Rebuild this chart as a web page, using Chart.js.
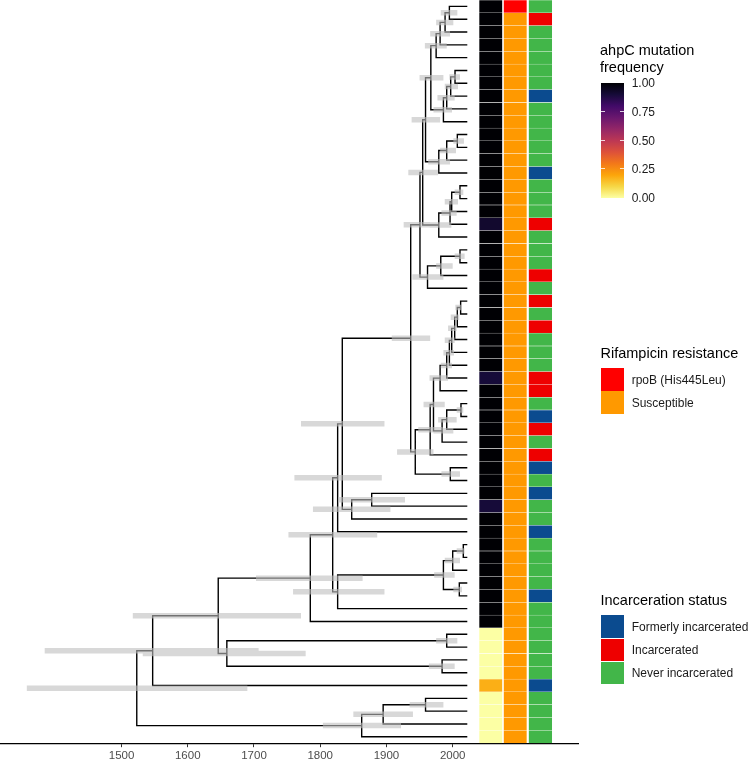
<!DOCTYPE html>
<html>
<head>
<meta charset="utf-8">
<script src="https://cdn.jsdelivr.net/npm/chart.js@4.4.1/dist/chart.umd.min.js"></script>
<style>
  html, body { margin: 0; padding: 0; background: #fff; overflow: hidden; }
  #wrap { position: relative; width: 749px; height: 759px; overflow: hidden; font-family: "Liberation Sans", Arial, Helvetica, sans-serif; }
  #tree { position: absolute; left: 0; top: 0; }
  .ttl { position: absolute; font-size: 14.5px; line-height: 17px; color: #000; white-space: nowrap; }
  .lab { position: absolute; font-size: 12px; line-height: 14px; color: #1a1a1a; white-space: nowrap; }
  .key { position: absolute; width: 23.6px; height: 22.7px; }
  .tk { position: absolute; width: 4.7px; height: 1px; background: rgba(255,255,255,0.8); }
</style>
</head>
<body>
<div id="wrap">
  <canvas id="tree" width="749" height="765"></canvas>
  <div id="legend"></div>
</div>
<script>
// tips are listed top to bottom (rows 1..58), all sampled about 2021
var tipDate = 2021;

var ahpcFreq = [
  1, 1, 1, 1, 1, 1, 1, 1, 1, 1,
  1, 1, 1, 1, 1, 1, 1, 0.92, 1, 1,
  1, 1, 1, 1, 1, 1, 1, 1, 1, 0.9,
  1, 1, 1, 1, 1, 1, 1, 1, 1, 0.9,
  1, 1, 1, 1, 1, 1, 1, 1, 1, 0,
  0, 0, 0, 0.18, 0, 0, 0, 0
];

var rifCategories = ['rpoB (His445Leu)', 'Susceptible'];
var rifampicin = [
  0, 1, 1, 1, 1, 1, 1, 1, 1, 1,
  1, 1, 1, 1, 1, 1, 1, 1, 1, 1,
  1, 1, 1, 1, 1, 1, 1, 1, 1, 1,
  1, 1, 1, 1, 1, 1, 1, 1, 1, 1,
  1, 1, 1, 1, 1, 1, 1, 1, 1, 1,
  1, 1, 1, 1, 1, 1, 1, 1
];

var jailCategories = ['Formerly incarcerated', 'Incarcerated', 'Never incarcerated'];
var incarceration = [
  2, 1, 2, 2, 2, 2, 2, 0, 2, 2,
  2, 2, 2, 0, 2, 2, 2, 1, 2, 2,
  2, 1, 2, 1, 2, 1, 2, 2, 2, 1,
  1, 2, 0, 1, 2, 1, 0, 2, 0, 2,
  2, 0, 2, 2, 2, 2, 0, 2, 2, 2,
  2, 2, 2, 0, 2, 2, 2, 2
];

// internal nodes, children before parents; numbers are tip rows
var nodeNames = ['a12', 'a13', 'a14', 'a15', 'b67', 'b68', 'b69', 'b610', 'c110', 'd1112',
  'd1113', 'd1114', 'e114', 'f1516', 'f1517', 'f1518', 'f1519', 'r119', 'g2021', 'g2022',
  'g2023', 'q', 'h2425', 'h26', 'h27', 'h28', 'h29', 'h30', 'h31', 'i3233',
  'i34', 'i35', 'wa', 'w0', 'j3738', 'k', 'p', 'l3940', 'l41', 'm',
  'hh', 'n4344', 'n45', 'n4647', 'n610', 'n48', 'gg', 'dd', 'f5051', 'g5253',
  'ee', 'cc', 'aa', 'b5556', 'b57', 'bb', 'root'];
var nodeKids = [[1, 2], ['a12', 3], ['a13', 4], ['a14', 5], [6, 7], ['b67', 8], ['b68', 9], ['b69', 10], ['a15', 'b610'], [11, 12],
  ['d1112', 13], ['d1113', 14], ['c110', 'd1114'], [15, 16], ['f1516', 17], ['f1517', 18], ['f1518', 19], ['e114', 'f1519'], [20, 21], ['g2021', 22],
  ['g2022', 23], ['r119', 'g2023'], [24, 25], ['h2425', 26], ['h26', 27], ['h27', 28], ['h28', 29], ['h29', 30], ['h30', 31], [32, 33],
  ['i3233', 34], ['i34', 35], ['h31', 'i35'], ['wa', 36], [37, 38], ['w0', 'j3738'], ['q', 'k'], [39, 40], ['l3940', 41], ['p', 'l41'],
  ['m', 42], [43, 44], ['n4344', 45], [46, 47], ['n45', 'n4647'], ['n610', 48], ['hh', 'n48'], ['gg', 49], [50, 51], [52, 53],
  ['f5051', 'g5253'], ['dd', 'ee'], ['cc', 54], [55, 56], ['b5556', 57], ['b57', 58], ['aa', 'bb']];
var nodeDates = [1995, 1988.5, 1981, 1975, 2003.5, 1997, 1991, 1986, 1967, 2007,
  1991, 1979, 1959, 2011, 1998.5, 1996, 1979, 1954.7, 2011, 1982,
  1962, 1950.6, 2012, 2007, 2003, 1998.5, 1995, 1991, 1981, 2012.5,
  1991, 1984, 1971, 1966, 1996.4, 1943.5, 1936.6, 1877.7, 1847.5, 1833.3,
  1826.3, 2016, 2000, 2010, 1986, 1826.3, 1818.8, 1785, 1991, 1984,
  1659, 1646, 1547, 1959, 1895, 1862.6, 1523];
// 95% HPD of node dates
var hpdLow = [1982, 1975, 1966, 1958, 1995, 1988, 1977, 1971, 1950, 2001,
  1981, 1963, 1938, 2003, 1988, 1983, 1965, 1933, 2003, 1975,
  1939, 1926, 2004, 1997, 1993, 1988, 1986, 1982, 1965, 2006,
  1978, 1971, 1956, 1948, 1983, 1916, 1908, 1827, 1789, 1771,
  1761, 2006, 1988, 2001, 1972, 1759, 1752, 1703, 1975, 1964,
  1532, 1517, 1384, 1935, 1850, 1804, 1357];
var hpdHigh = [2007, 2001, 1996, 1991, 2011, 2008, 2003, 1999, 1986, 2017,
  2005, 1996, 1981, 2016, 2008, 2006, 1998, 1978, 2018, 2000,
  1986, 1966, 2014, 2010, 2006, 2003, 2002, 1999, 1993, 2016,
  2006, 2001, 1988, 1985, 2011, 1971, 1966, 1928, 1906, 1897,
  1893, 2018, 2011, 2014, 2003, 1897, 1886, 1864, 2007, 2003,
  1778, 1771, 1707, 1986, 1940, 1922, 1690];

var tickYears = [1500, 1600, 1700, 1800, 1900, 2000];

// ---- layout / styles ----
var heatCols = [[2040.2, 2074.9], [2077, 2111.7], [2114.8, 2150]];
var rifColors = ['#ff0000', '#ff9900'];
var jailColors = ['#0b4b8f', '#ee0000', '#42b649'];
var inferno = ['#000004', '#160b39', '#420a68', '#6a176e', '#932667', '#bc3754',
  '#dd513a', '#f37819', '#fca50a', '#f6d746', '#fcffa4'];

function hexRgb(h) {
  return [parseInt(h.substr(1, 2), 16), parseInt(h.substr(3, 2), 16), parseInt(h.substr(5, 2), 16)];
}
function freqColor(f) {
  var t = (1 - f) * 10;
  var i = Math.min(9, Math.floor(t));
  var u = t - i;
  var a = hexRgb(inferno[i]), b = hexRgb(inferno[i + 1]);
  var c = a.map(function (v, j) { return Math.round(v + (b[j] - v) * u); });
  return 'rgb(' + c.join(',') + ')';
}

// node positions: y of an internal node is the mean of its children
var pos = {};
for (var i = 1; i <= ahpcFreq.length; i++) pos[i] = { x: tipDate, y: i };
nodeNames.forEach(function (n, k) {
  var a = pos[nodeKids[k][0]], b = pos[nodeKids[k][1]];
  pos[n] = { x: nodeDates[k], y: (a.y + b.y) / 2 };
});

var branches = [];
var ranges = [];
nodeNames.forEach(function (n, k) {
  var a = pos[nodeKids[k][0]], b = pos[nodeKids[k][1]], p = pos[n];
  branches.push({ x: a.x, y: a.y }, { x: p.x, y: a.y }, { x: p.x, y: b.y }, { x: b.x, y: b.y }, { x: null, y: null });
  ranges.push({ x: hpdLow[k], y: p.y }, { x: hpdHigh[k], y: p.y }, { x: null, y: null });
});

var rows = ahpcFreq.map(function (f, i) { return i + 1; });

function heatSet(col, colors) {
  return {
    type: 'bar',
    indexAxis: 'y',
    grouped: false,
    data: rows.map(function (r) { return { y: r, x: heatCols[col] }; }),
    backgroundColor: colors,
    borderColor: 'rgba(255,255,255,0.45)',
    borderWidth: { top: 0.5, bottom: 0.5, left: 0, right: 0 },
    borderSkipped: false,
    barPercentage: 1,
    categoryPercentage: 1,
    order: 3
  };
}

var fontFam = '"Liberation Sans", Arial, Helvetica, sans-serif';

new Chart(document.getElementById('tree'), {
  type: 'line',
  data: {
    datasets: [
      {
        data: ranges,
        borderColor: 'rgba(190,190,190,0.6)',
        borderWidth: 5.5,
        borderCapStyle: 'butt',
        pointRadius: 0,
        spanGaps: false,
        order: 1
      },
      {
        data: branches,
        borderColor: '#000',
        borderWidth: 1.4,
        borderCapStyle: 'square',
        borderJoinStyle: 'miter',
        pointRadius: 0,
        spanGaps: false,
        order: 2
      },
      heatSet(0, ahpcFreq.map(freqColor)),
      heatSet(1, rifampicin.map(function (c) { return rifColors[c]; })),
      heatSet(2, incarceration.map(function (c) { return jailColors[c]; }))
    ]
  },
  options: {
    responsive: false,
    animation: false,
    devicePixelRatio: 1,
    events: [],
    layout: { padding: { left: 0, right: 171, top: 0, bottom: 0 } },
    plugins: { legend: { display: false }, tooltip: { enabled: false } },
    elements: { line: { tension: 0 } },
    scales: {
      x: {
        type: 'linear',
        min: 1316.5,
        max: 2189.2,
        beginAtZero: false,
        offset: false,
        afterBuildTicks: function (s) { s.ticks = tickYears.map(function (v) { return { value: v }; }); },
        grid: { offset: false, drawOnChartArea: false, drawTicks: true, tickLength: 4, color: '#333', lineWidth: 1 },
        border: { display: true, color: '#000', width: 1.2 },
        ticks: {
          color: '#4d4d4d',
          font: { family: fontFam, size: 11.5 },
          padding: 2,
          maxRotation: 0,
          autoSkip: false,
          callback: function (v) { return String(v); }
        }
      },
      y: {
        type: 'linear',
        display: false,
        offset: false,
        grid: { offset: false },
        min: 0.5,
        max: ahpcFreq.length + 0.5,
        reverse: true
      }
    }
  }
});

// ---- legends (HTML) ----
var lg = document.getElementById('legend');
function add(cls, txt, left, top, css) {
  var d = document.createElement('div');
  d.className = cls;
  if (txt) d.innerHTML = txt;
  d.style.left = left + 'px';
  d.style.top = top + 'px';
  if (css) for (var k in css) d.style[k] = css[k];
  lg.appendChild(d);
  return d;
}

var legLeft = 600.7, labLeft = 631.7;
add('ttl', 'ahpC mutation<br>frequency', 600, 42);
var barTop = 82.7, barH = 115;
var stops = inferno.map(function (c, i) { return c + ' ' + (i * 10) + '%'; }).join(',');
add('key', '', legLeft, barTop, { height: barH + 'px', background: 'linear-gradient(to bottom,' + stops + ')' });
var cbBreaks = [1, 0.75, 0.5, 0.25, 0];
cbBreaks.forEach(function (b) {
  var y = barTop + (1 - b) * barH;
  if (b > 0 && b < 1) {
    add('tk', '', legLeft, y - 0.5);
    add('tk', '', legLeft + 23.6 - 4.7, y - 0.5);
  }
  add('lab', b.toFixed(2), labLeft, y - 6.5);
});

add('ttl', 'Rifampicin resistance', 600.5, 344.8);
rifCategories.forEach(function (c, i) {
  add('key', '', legLeft, 368.3 + i * 22.7, { background: rifColors[i] });
  add('lab', c, labLeft, 373 + i * 22.7);
});

add('ttl', 'Incarceration status', 600.5, 592.2);
jailCategories.forEach(function (c, i) {
  add('key', '', legLeft, 615.3 + i * 23.2, { background: jailColors[i] });
  add('lab', c, labLeft, 620 + i * 23.2);
});
</script>
</body>
</html>
